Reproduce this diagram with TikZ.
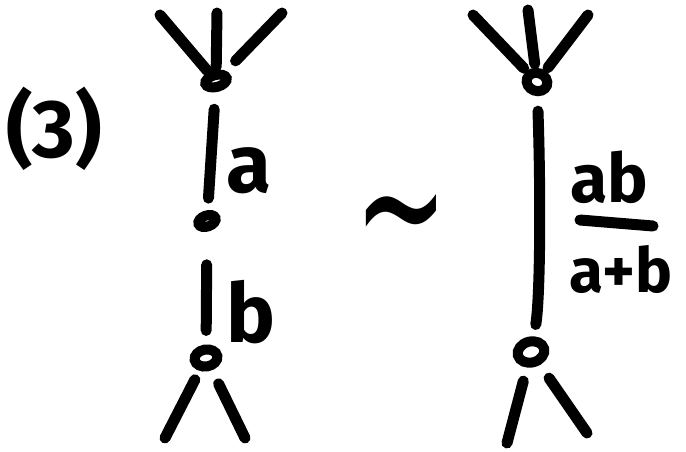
\documentclass[tikz,border=0pt]{standalone}
\usepackage{fontspec}
\setmainfont{Fira Sans}
\newfontfamily\symfont{DejaVu Sans}
\usetikzlibrary{shapes.geometric,positioning}

\begin{document}
\begin{tikzpicture}[
  x=1pt, y=-1pt,
  stroke/.style={line width=11pt, line cap=round, line join=round},
  vert/.style={draw, ellipse, line width=10pt, inner sep=0pt},
  lbl/.style={font=\fontsize{82}{82}\selectfont\bfseries, inner sep=0pt, anchor=base},
  fraclbl/.style={font=\fontsize{68}{68}\selectfont\bfseries, inner sep=0pt, anchor=base}
]
  \useasboundingbox (0,0) rectangle (686,451);

  % equation number
  \node[lbl] (num) at (54,157) {(3)};

  % left: edge a followed by edge b
  \node[vert, minimum width=22pt, minimum height=12pt, rotate=15] (ltop) at (216,81) {};
  \node[vert, minimum width=18pt, minimum height=11pt, rotate=20] (lmid) at (207,221) {};
  \node[vert, minimum width=23pt, minimum height=17pt, rotate=10] (lbot) at (206,358) {};
  \coordinate (lt1) at (160,15);
  \coordinate (lt2) at (217,13);
  \coordinate (lt3) at (282,13);
  \coordinate (lb1) at (165,438);
  \coordinate (lb2) at (245,438);
  \draw[stroke, shorten >=2pt] (lt1) -- (ltop);
  \draw[stroke, shorten >=3pt] (lt2) -- (ltop);
  \draw[stroke, shorten >=14pt] (lt3) -- (ltop);
  \draw[stroke, shorten <=17pt, shorten >=12pt] (ltop) -- (lmid);
  \node[lbl] (la) at (249,192) {a};
  \draw[stroke, shorten <=33pt, shorten >=14pt] (lmid) -- (lbot);
  \node[lbl] (lb) at (251,342) {b};
  \draw[stroke, shorten <=10pt] (lbot) -- (lb1);
  \draw[stroke, shorten <=15pt] (lbot) -- (lb2);

  % equivalence
  \node[font=\symfont\fontsize{112}{112}\selectfont, inner sep=0pt] (eq) at (401,232) {\scalebox{1}[1.7]{∼}};

  % right: single edge ab/(a+b)
  \node[vert, minimum width=21pt, minimum height=18pt, rotate=-20] (rtop) at (537,82) {};
  \node[vert, minimum width=27pt, minimum height=21pt, rotate=15] (rbot) at (531,352) {};
  \coordinate (rt1) at (473,15);
  \coordinate (rt2) at (528,10);
  \coordinate (rt3) at (588,15);
  \coordinate (rb1) at (507,443);
  \coordinate (rb2) at (587,433);
  \draw[stroke, shorten >=4pt] (rt1) -- (rtop);
  \draw[stroke, shorten >=4pt] (rt2) -- (rtop);
  \draw[stroke, shorten >=4pt] (rt3) -- (rtop);
  \draw[stroke, shorten <=15pt, shorten >=12pt] (rtop) .. controls (541,200) and (540,300) .. (rbot);
  \draw[stroke, shorten <=14pt] (rbot) -- (rb1);
  \draw[stroke, shorten <=16pt] (rbot) -- (rb2);

  % fraction
  \node[fraclbl] (numer) at (609,202) {ab};
  \node[fraclbl, font=\fontsize{62}{62}\selectfont\bfseries] (denom) at (621,292) {a+b};
  \coordinate (barL) at (580,220);
  \coordinate (barR) at (653,226);
  \draw[stroke] (barL) -- (barR);
\end{tikzpicture}
\end{document}
